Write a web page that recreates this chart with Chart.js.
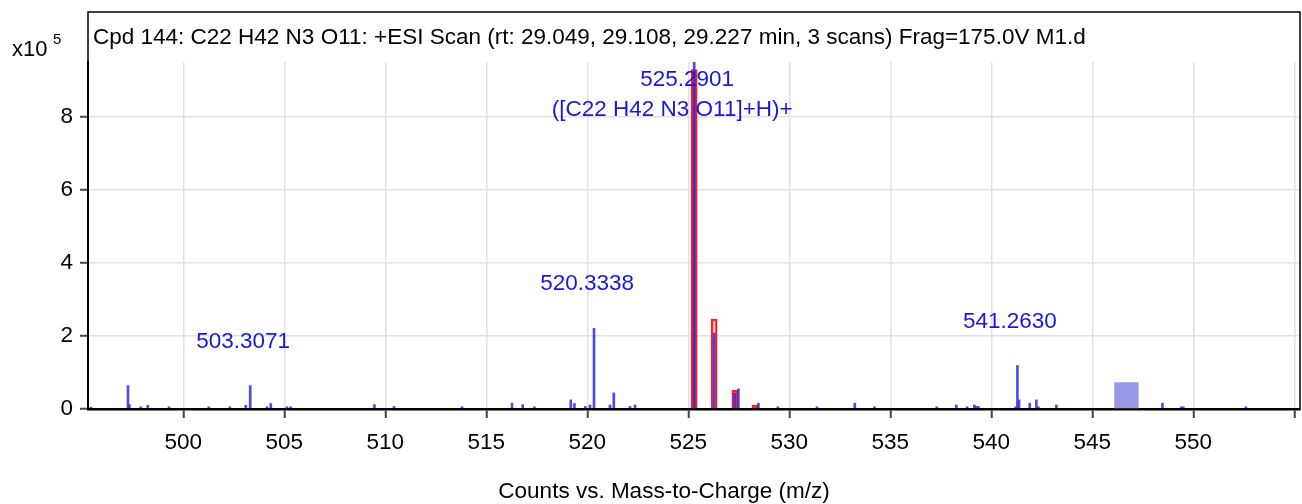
<!DOCTYPE html>
<html>
<head>
<meta charset="utf-8">
<script src="https://cdn.jsdelivr.net/npm/chart.js@4.4.0/dist/chart.umd.min.js"></script>
<style>
  html, body { margin: 0; padding: 0; background: #fff; }
  #wrap { width: 1302px; height: 504px; position: relative; }
</style>
</head>
<body>
<div id="wrap"><canvas id="spectrum"></canvas></div>
<script>
// centroid sticks: m/z and counts (x10^5)
const stickMz = [
  495.42, 497.26, 497.33, 497.89, 498.24, 499.29, 501.26, 502.30, 503.09, 503.31,
  504.14, 504.33, 505.13, 505.31, 509.46, 510.43, 513.80, 516.27, 516.80, 517.38,
  519.18, 519.36, 519.90, 520.13, 520.33, 521.12, 521.31, 522.11, 522.36, 525.29,
  526.28, 527.29, 527.48, 528.47, 529.43, 531.37, 533.24, 534.21, 537.30, 538.27,
  538.80, 539.16, 539.26, 539.36, 541.20, 541.29, 541.37, 541.90, 542.23, 542.33,
  543.22, 548.47, 549.40, 549.50, 552.60
];
const stickCounts = [
  0.05, 0.64, 0.12, 0.06, 0.10, 0.06, 0.06, 0.06, 0.10, 0.64,
  0.06, 0.15, 0.06, 0.06, 0.12, 0.07, 0.06, 0.16, 0.12, 0.06,
  0.25, 0.15, 0.07, 0.11, 2.21, 0.11, 0.44, 0.07, 0.11, 9.60,
  2.08, 0.43, 0.55, 0.16, 0.06, 0.06, 0.16, 0.06, 0.06, 0.11,
  0.06, 0.11, 0.07, 0.07, 0.06, 1.19, 0.25, 0.16, 0.25, 0.06,
  0.11, 0.16, 0.06, 0.06, 0.06
];

// predicted isotope pattern (red boxes)
const isoMz = [525.29, 526.28, 527.30, 528.30];
const isoCounts = [9.29, 2.46, 0.52, 0.11];

// shaded band
const bandMz = [546.08, 547.30];
const bandCount = 0.73;

// peak labels
const labelMz = [525.2901, 520.3338, 503.3071, 541.2630];
const labelText = [['525.2901', '([C22 H42 N3 O11]+H)+'], ['520.3338'], ['503.3071'], ['541.2630']];

const xTicks = [500, 505, 510, 515, 520, 525, 530, 535, 540, 545, 550];
const yTicks = [0, 2, 4, 6, 8];

const titleText = 'Cpd 144: C22 H42 N3 O11: +ESI Scan (rt: 29.049, 29.108, 29.227 min, 3 scans) Frag=175.0V M1.d';
const xTitle = 'Counts vs. Mass-to-Charge (m/z)';

const FONT = '"Liberation Sans", Arial, sans-serif';
const FS = 22.5;

function peakHeight(mz) {
  let best = 0, bestD = Infinity;
  stickMz.forEach((m, i) => {
    const d = Math.abs(m - mz);
    if (d < bestD) { bestD = d; best = stickCounts[i]; }
  });
  return best;
}

const decorPlugin = {
  id: 'decor',
  afterDraw(chart) {
    const ctx = chart.ctx;
    const area = chart.chartArea;
    const xs = chart.scales.x;
    const ys = chart.scales.y;
    ctx.save();

    // frame with title
    ctx.strokeStyle = '#000';
    ctx.lineWidth = 1.5;
    ctx.strokeRect(area.left, 12, area.right - area.left, area.bottom - 12);

    ctx.fillStyle = '#000';
    ctx.font = FS + 'px ' + FONT;
    ctx.textBaseline = 'middle';
    ctx.textAlign = 'left';
    ctx.fillText(titleText, area.left + 5, 38);

    // multiplier
    ctx.font = '22px ' + FONT;
    ctx.textBaseline = 'alphabetic';
    ctx.fillText('x10', 12, 56);
    ctx.font = '15px ' + FONT;
    ctx.fillText('5', 53, 44);

    // axis title
    ctx.font = FS + 'px ' + FONT;
    ctx.textAlign = 'center';
    ctx.textBaseline = 'middle';
    ctx.fillText(xTitle, 664, 492);

    // peak labels
    ctx.fillStyle = '#1818dc';
    labelMz.forEach((mz, i) => {
      const px = xs.getPixelForValue(mz) - 7;
      const top = ys.getPixelForValue(peakHeight(mz));
      const py = Math.max(top - 44, area.top + 18);
      labelText[i].forEach((line, j) => {
        const off = j === 0 ? 0 : -15;
        ctx.fillText(line, px + off, py + j * 30);
      });
    });
    ctx.restore();
  }
};

const ctx = document.getElementById('spectrum').getContext('2d');
new Chart(ctx, {
  data: {
    datasets: [{
      type: 'bar',
      label: 'sticks',
      stack: 'spec',
      data: stickMz.map((m, i) => ({ x: m, y: stickCounts[i] })),
      backgroundColor: 'rgba(45, 45, 225, 0.85)',
      barThickness: 2,
      order: 0
    }, {
      type: 'bar',
      label: 'isotopes',
      stack: 'spec',
      data: isoMz.map((m, i) => ({ x: m, y: isoCounts[i] })),
      backgroundColor: ['#ff2a2a', 'rgba(255, 210, 210, 0.6)', 'rgba(255, 60, 60, 0.85)', '#ff2a2a'],
      borderColor: '#ff1a1a',
      borderWidth: 2,
      barThickness: 6,
      order: 1
    }, {
      type: 'line',
      label: 'band',
      data: [
        { x: bandMz[0], y: 0 }, { x: bandMz[0], y: bandCount },
        { x: bandMz[1], y: bandCount }, { x: bandMz[1], y: 0 }
      ],
      borderWidth: 0,
      pointRadius: 0,
      fill: 'origin',
      backgroundColor: '#9898e8',
      order: 2
    }]
  },
  options: {
    responsive: true,
    maintainAspectRatio: false,
    animation: false,
    layout: { padding: { top: 62, right: 2, left: 0, bottom: 0 } },
    plugins: {
      legend: { display: false },
      tooltip: { enabled: false }
    },
    scales: {
      x: {
        type: 'linear',
        position: 'bottom',
        offset: false,
        min: 495.28,
        max: 555.28,
        afterFit(scale) {
          scale.height = 95;
          scale.paddingLeft = 0;
          scale.paddingRight = 0;
        },
        afterBuildTicks(scale) {
          scale.ticks = xTicks.concat([555]).map(v => ({ value: v }));
        },
        ticks: {
          autoSkip: false,
          maxRotation: 0,
          padding: 11,
          color: '#000',
          font: { family: FONT, size: FS },
          callback: v => (xTicks.includes(v) ? String(v) : '')
        },
        grid: {
          offset: false,
          color: '#e2e2e2',
          lineWidth: 1.5,
          tickLength: 9,
          tickColor: '#444',
          tickWidth: 2
        },
        border: { color: '#000', width: 2.5 }
      },
      y: {
        stacked: false,
        min: 0,
        max: 9.5,
        afterFit(scale) { scale.width = 88; },
        afterBuildTicks(scale) {
          scale.ticks = yTicks.map(v => ({ value: v }));
        },
        ticks: {
          padding: 7,
          color: '#000',
          font: { family: FONT, size: FS }
        },
        grid: {
          color: '#e2e2e2',
          lineWidth: 1.5,
          tickLength: 8,
          tickColor: '#444',
          tickWidth: 2
        },
        border: { color: '#000', width: 2 }
      }
    }
  },
  plugins: [decorPlugin]
});
</script>
</body>
</html>
